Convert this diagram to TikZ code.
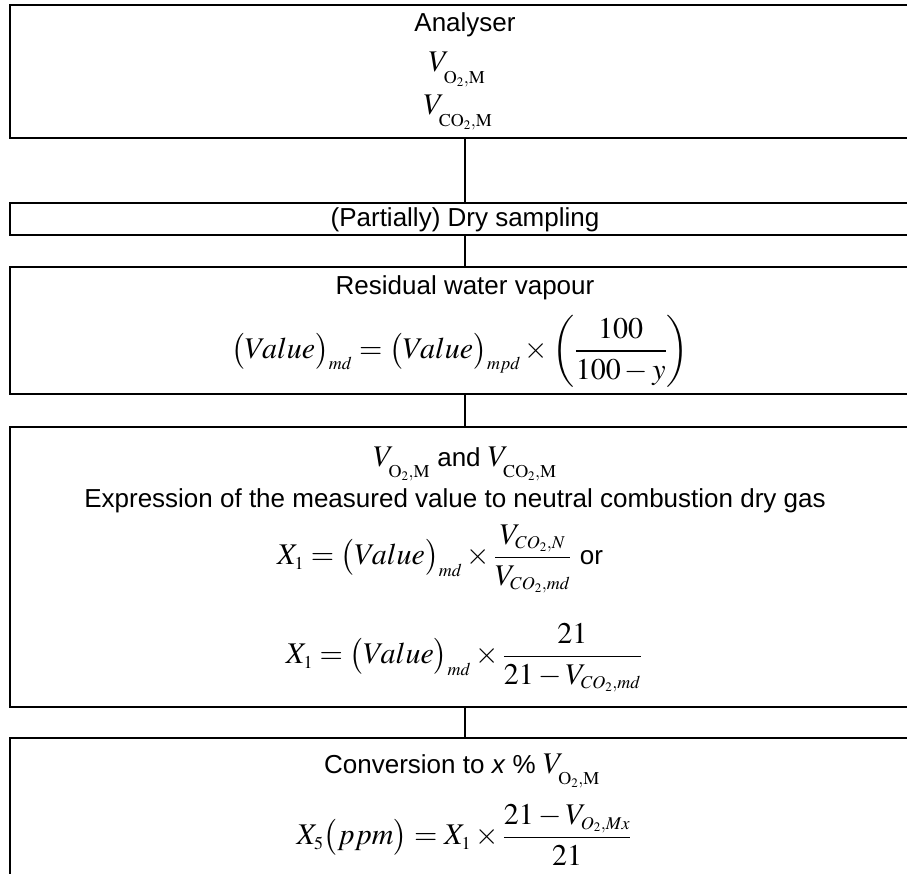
\documentclass[tikz,border=0pt]{standalone}
\usepackage{mathptmx}
\usepackage[no-math]{fontspec}
\setmainfont{Liberation Sans}
\DeclareMathSizes{30}{30}{18}{13}
\newcommand{\mth}{\fontsize{30}{36}\selectfont}
\newcommand{\hsub}[1]{_{\lower7pt\hbox{$\scriptstyle #1$}}}
\begin{document}
\begin{tikzpicture}[x=1pt,y=-1pt,
  box/.style={draw, line width=2pt, minimum width=910pt, minimum height=#1,
    inner sep=0pt, outer sep=0pt, anchor=north},
  link/.style={line width=1.3pt},
  txt/.style={font=\fontsize{26}{30}\selectfont, inner sep=0pt, anchor=base},
  eq/.style={font=\mth, inner sep=0pt, anchor=center}
]
\useasboundingbox (0,0) rectangle (907,874);
\fill[white] (0,0) rectangle (907,874);
\clip (0,0) rectangle (907,874);

% boxes
\node[box=133pt] (b1) at (465,5) {};
\node[box=32pt]  (b2) at (465,203) {};
\node[box=127pt] (b3) at (465,267) {};
\node[box=280pt] (b4) at (465,427) {};
\node[box=170pt] (b5) at (465,738) {};

% connectors
\draw[link] (b1.south) -- (b2.north);
\draw[link] (b2.south) -- (b3.north);
\draw[link] (b3.south) -- (b4.north);
\draw[link] (b4.south) -- (b5.north);

% box 1
\node[txt] (t1) at (465,32) {Analyser};
\node[txt] (t2) at (457,72) {\mth$V\hsub{\mathrm{O}_2,\mathrm{M}}$};
\node[txt] (t3) at (458,115) {\mth$V\hsub{\mathrm{CO}_2,\mathrm{M}}$};

% box 2
\node[txt] (t4) at (465,227) {(Partially) Dry sampling};

% box 3
\node[txt] (t5) at (465,295) {Residual water vapour};
\node[eq] (e1) at (460,351) {$\displaystyle \bigl(Value\bigr)_{md} = \bigl(Value\bigr)_{mpd} \times \left(\frac{100}{100-y}\right)$};

% box 4
\node[txt] (t6) at (465,466) {{\mth$V\hsub{\mathrm{O}_2,\mathrm{M}}$} and {\mth$V\hsub{\mathrm{CO}_2,\mathrm{M}}$}};
\node[txt] (t7) at (455,507) {Expression of the measured value to neutral combustion dry gas};
\node[eq] (e2) at (440,559) {$\displaystyle X_1 = \bigl(Value\bigr)_{md} \times \frac{V_{CO_2,N}}{V_{CO_2,md}}$ {\fontsize{26}{30}\selectfont or}};
\node[eq] (e3) at (464,658) {$\displaystyle X_1 = \bigl(Value\bigr)_{md} \times \frac{21}{21-V_{CO_2,md}}$};

% box 5
\node[txt] (t8) at (462,773) {Conversion to \textit{x} \% {\mth$V\hsub{\mathrm{O}_2,\mathrm{M}}$}};
\node[eq] (e4) at (464,835) {$\displaystyle X_5\bigl(ppm\bigr) = X_1 \times \frac{21-V_{O_2,Mx}}{21}$};
\end{tikzpicture}
\end{document}
